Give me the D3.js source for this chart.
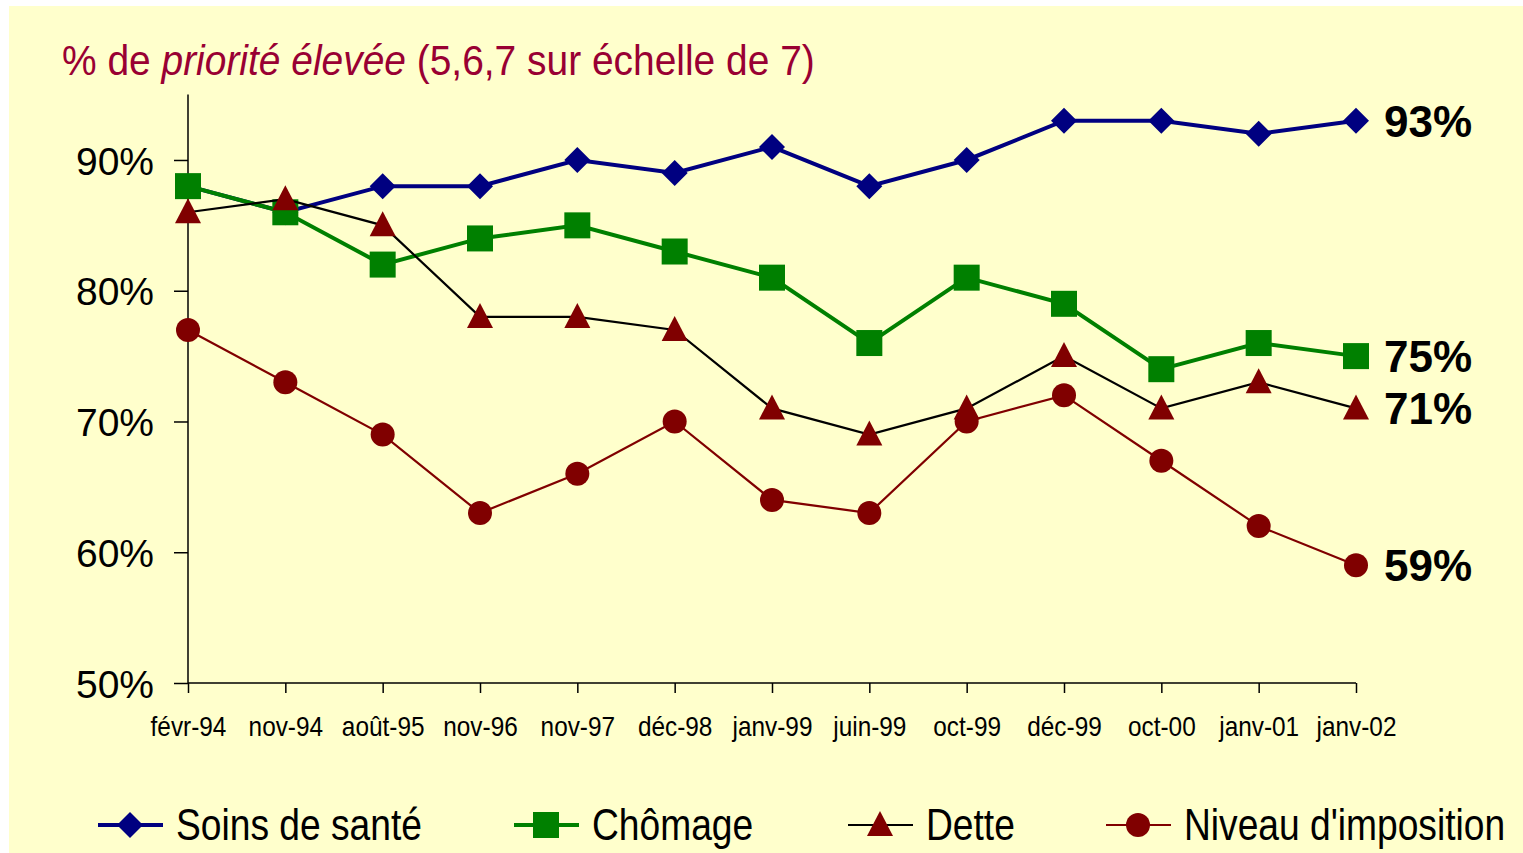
<!DOCTYPE html>
<html>
<head>
<meta charset="utf-8">
<script src="https://cdn.jsdelivr.net/npm/d3@7"></script>
<style>
  html, body { margin: 0; padding: 0; background: #ffffff; }
  svg { display: block; }
</style>
</head>
<body>
<script>
const categories = ["févr-94","nov-94","août-95","nov-96","nov-97","déc-98","janv-99","juin-99","oct-99","déc-99","oct-00","janv-01","janv-02"];
const soins = [88, 86, 88, 88, 90, 89, 91, 88, 90, 93, 93, 92, 93];
const chomage = [88, 86, 82, 84, 85, 83, 81, 76, 81, 79, 74, 76, 75];
const dette = [86, 87, 85, 78, 78, 77, 71, 69, 71, 75, 71, 73, 71];
const imposition = [77, 73, 69, 63, 66, 70, 64, 63, 70, 72, 67, 62, 59];
const yTicks = [50, 60, 70, 80, 90];
const seriesNames = ["Soins de santé", "Chômage", "Dette", "Niveau d'imposition"];

const W = 1523, H = 853;
const narrow = "'Liberation Sans Narrow', 'Arial Narrow', 'Liberation Sans', Arial, sans-serif";
const sans = "'Liberation Sans', Arial, sans-serif";

const series = [
  {name: seriesNames[0], values: soins, line: "#000080", width: 4, marker: "diamond", fill: "#000080"},
  {name: seriesNames[1], values: chomage, line: "#008000", width: 4, marker: "square", fill: "#008000"},
  {name: seriesNames[2], values: dette, line: "#000000", width: 2.2, marker: "triangle", fill: "#800000"},
  {name: seriesNames[3], values: imposition, line: "#800000", width: 2.2, marker: "circle", fill: "#800000"}
];

const svg = d3.select("body").append("svg").attr("width", W).attr("height", H);
svg.append("rect").attr("x", 9).attr("y", 6).attr("width", W - 9).attr("height", H - 6).attr("fill", "#FFFFCC");

const x = d3.scalePoint().domain(categories).range([188, 1356]);
const y = d3.scaleLinear().domain([50, 95]).range([683, 94.6]);

// Title (condensed to the reference width)
const title = svg.append("text").attr("x", 0).attr("y", 0)
  .attr("font-family", narrow).attr("font-size", 43).attr("fill", "#990033");
title.append("tspan").text("% de ");
title.append("tspan").attr("font-style", "italic").text("priorité élevée");
title.append("tspan").text(" (5,6,7 sur échelle de 7)");
const tw = title.node().getComputedTextLength();
title.attr("transform", `translate(62,75) scale(${753 / tw},1)`);

// Y axis
const yAxis = svg.append("g").attr("transform", "translate(188,0)")
  .call(d3.axisLeft(y).tickValues(yTicks).tickSize(14).tickPadding(20).tickFormat(d => d + "%"));
yAxis.select(".domain").attr("stroke", "#000").attr("stroke-width", 1.5).attr("d", `M0,${y(95)}V${y(50)}`);
yAxis.selectAll(".tick line").attr("stroke", "#000").attr("stroke-width", 1.5);
yAxis.selectAll(".tick text").attr("font-family", sans).attr("font-size", 39).attr("fill", "#000").attr("dy", "0.36em");

// X axis
const xAxis = svg.append("g").attr("transform", "translate(0,683)")
  .call(d3.axisBottom(x).tickSize(10).tickPadding(23));
xAxis.select(".domain").attr("stroke", "#000").attr("stroke-width", 1.5).attr("d", `M${x(categories[0])},0H${x(categories[categories.length-1])}`);
xAxis.selectAll(".tick line").attr("stroke", "#000").attr("stroke-width", 1.5);
xAxis.selectAll(".tick text").attr("font-family", narrow).attr("font-size", 28).attr("fill", "#000")
  .attr("transform", "scale(0.87,1)");

// Marker drawing
function drawMarker(g, type, fill, cx, cy) {
  if (type === "diamond") {
    g.append("path").attr("d", `M${cx},${cy-13}L${cx+13},${cy}L${cx},${cy+13}L${cx-13},${cy}Z`).attr("fill", fill);
  } else if (type === "square") {
    g.append("rect").attr("x", cx-13).attr("y", cy-13).attr("width", 26).attr("height", 26).attr("fill", fill);
  } else if (type === "triangle") {
    g.append("path").attr("d", `M${cx},${cy-14}L${cx+13},${cy+11}L${cx-13},${cy+11}Z`).attr("fill", fill);
  } else if (type === "circle") {
    g.append("circle").attr("cx", cx).attr("cy", cy).attr("r", 12).attr("fill", fill);
  }
}

const lineGen = d3.line().x((d, i) => x(categories[i])).y(d => y(d));

series.forEach(s => {
  const g = svg.append("g");
  g.append("path").attr("d", lineGen(s.values)).attr("fill", "none")
    .attr("stroke", s.line).attr("stroke-width", s.width).attr("stroke-linejoin", "miter");
  s.values.forEach((v, i) => drawMarker(g, s.marker, s.fill, x(categories[i]), y(v)));
});

// End labels
const endValues = [soins, chomage, dette, imposition].map(a => a[a.length - 1]);
endValues.forEach(v => {
  svg.append("text").attr("x", 1384).attr("y", y(v)).attr("dy", "0.36em")
    .attr("font-family", sans).attr("font-weight", "bold").attr("font-size", 44).attr("fill", "#000")
    .text(v + "%");
});

// Legend
const legendX = [98, 514, 848, 1106];
series.forEach((s, i) => {
  const g = svg.append("g");
  const lx = legendX[i], ly = 825;
  g.append("line").attr("x1", lx).attr("x2", lx + 65).attr("y1", ly).attr("y2", ly)
    .attr("stroke", s.line).attr("stroke-width", s.width);
  drawMarker(g, s.marker, s.fill, lx + 32, ly);
  g.append("text").attr("x", 0).attr("y", 0).attr("font-family", narrow).attr("font-size", 44)
    .attr("transform", `translate(${lx + 78},840) scale(0.845,1)`)
    .attr("fill", "#000").text(s.name);
});
</script>
</body>
</html>
